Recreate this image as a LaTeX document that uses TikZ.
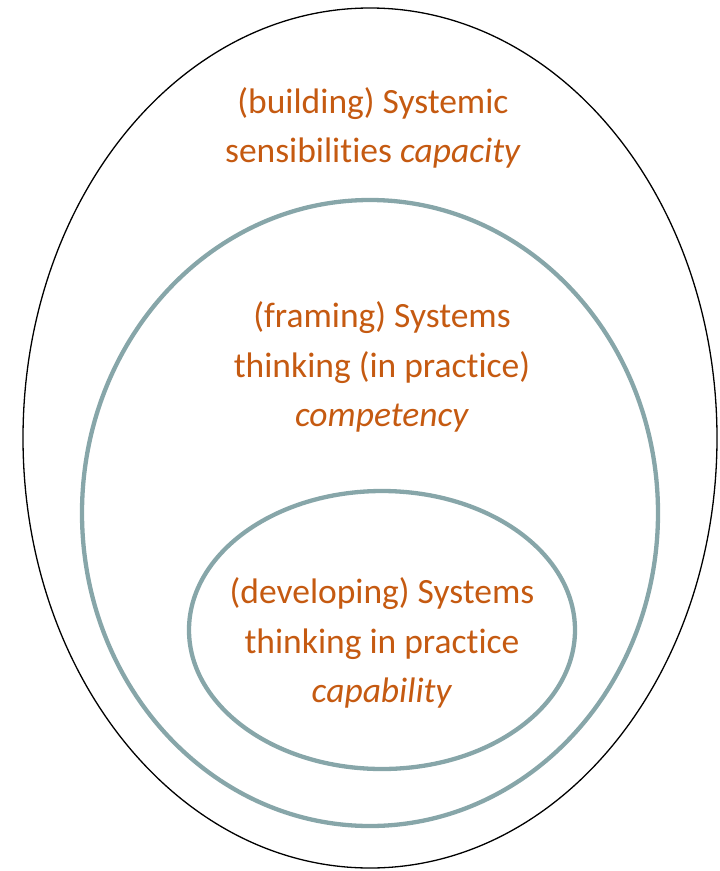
\documentclass[tikz,border=0pt]{standalone}
\usepackage{fontspec}
\setmainfont{Carlito}[Ligatures=NoCommon]
\definecolor{ringgrey}{HTML}{87A6A9}
\definecolor{labelorange}{HTML}{C55A11}
\tikzset{
    ringlabel/.style={text=labelorange, align=center, font=\fontsize{35.5}{49.5}\selectfont}
}
\begin{document}
\begin{tikzpicture}[x=1pt,y=-1pt]
    \useasboundingbox (0,0) rectangle (720,871);

    % Outer ring = capacity
    \draw[line width=1.3pt] (370,438) ellipse [x radius=347, y radius=430];
    \node[ringlabel] (capacity) at (373,128) {(building) Systemic\\sensibilities \textit{capacity}};

    % Middle ring = competency
    \draw[ringgrey, line width=4.3pt] (370,513) ellipse [x radius=288, y radius=313];
    \node[ringlabel] (competency) at (382,367) {(framing) Systems\\thinking (in practice)\\\textit{competency}};

    % Inner ring = capability
    \draw[ringgrey, line width=4.3pt] (382,630) ellipse [x radius=193, y radius=139];
    \node[ringlabel] (capability) at (382,643) {(developing) Systems\\thinking in practice\\\textit{capability}};
\end{tikzpicture}
\end{document}
